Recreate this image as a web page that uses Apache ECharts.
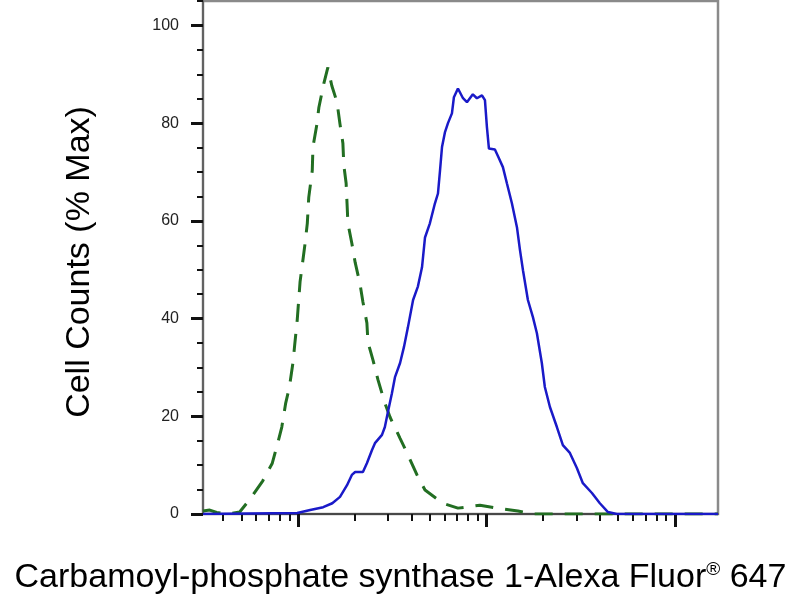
<!DOCTYPE html>
<html>
<head>
<meta charset="utf-8">
<script src="https://cdn.jsdelivr.net/npm/echarts@6/dist/echarts.min.js"></script>
<style>
html,body{margin:0;padding:0;background:#fff;}
#chart{width:800px;height:600px;}
</style>
</head>
<body>
<div id="chart"></div>
<script>
// Isotype control (green dashed)
const greenX = [31.3, 34, 37, 42, 49, 56, 65, 73, 78, 82, 86, 90, 94, 96, 99, 102.5, 109, 112, 114, 119, 120, 126, 129, 137, 144, 151, 161, 167, 173, 175, 180, 182, 184, 193, 201, 213, 221, 232, 235, 250, 266, 289, 308, 348, 379, 428, 472, 588, 706, 924, 1137, 1469, 1765, 2673, 4000, 7365, 16950];
const greenY = [0.6, 0.8, 0.3, 0, 0.4, 3.2, 6.8, 10.4, 14.5, 17.8, 22.7, 26.0, 31.0, 34.6, 39.7, 47.5, 55.4, 59.5, 64.8, 70.3, 75.1, 79.8, 83.2, 88.1, 91.4, 87.7, 84.3, 79.8, 75.9, 71.4, 67.7, 63.6, 59.5, 55.4, 51.5, 47.2, 43.4, 39.1, 35.2, 31.5, 27.4, 22.7, 19.8, 15.5, 12.5, 8.0, 4.9, 2.2, 1.2, 1.8, 1.2, 0.6, 0, 0, 0, 0, 0];
// Sample (blue solid)
const blueX = [31.3, 99, 116, 136, 152, 167, 182, 193, 201, 221, 232, 247, 256, 279, 289, 300, 315, 327, 348, 365, 383, 408, 433, 455, 472, 501, 533, 553, 567, 581, 602, 625, 656, 672, 706, 751, 788, 847, 890, 947, 982, 1006, 1031, 1109, 1165, 1223, 1284, 1365, 1452, 1507, 1563, 1660, 1765, 1853, 1968, 2042, 2173, 2366, 2545, 2773, 3020, 3250, 3631, 4000, 4416, 4923, 16950];
const blueY = [0, 0.2, 0.8, 1.4, 2.2, 3.5, 5.9, 8.0, 8.6, 8.6, 10.4, 13.1, 14.5, 16.2, 17.8, 20.9, 24.7, 28.0, 30.9, 34.2, 38.2, 43.8, 46.6, 50.5, 56.6, 59.5, 63.6, 65.6, 70.3, 75.1, 78.1, 80.0, 82.0, 85.3, 87.1, 85.1, 84.3, 85.9, 85.1, 85.7, 84.7, 79.2, 74.8, 74.6, 72.8, 71.0, 67.7, 63.6, 58.7, 54.0, 49.9, 43.8, 40.3, 37.0, 30.9, 26.0, 21.9, 17.8, 14.1, 12.5, 9.4, 6.3, 4.3, 2.2, 0.4, 0, 0];

const yMajorTicks = [0, 20, 40, 60, 80, 100];
const yMinorTicks = [5, 10, 15, 25, 30, 35, 45, 50, 55, 65, 70, 75, 85, 90, 95, 105];
const xMajorTicks = [100, 1000, 10000];
const xMinorTicks = [40, 50, 60, 70, 80, 90, 200, 300, 400, 500, 600, 700, 800, 900, 2000, 3000, 4000, 5000, 6000, 7000, 8000, 9000];

const X_MIN = 31.3, X_MAX = 16950, Y_MIN = 0, Y_MAX = 105;
const xTitle = 'Carbamoyl-phosphate synthase 1-Alexa Fluor';
const yTitle = 'Cell Counts (% Max)';

const pair = (xs, ys) => xs.map((x, i) => [x, ys[i]]);

const chart = echarts.init(document.getElementById('chart'));
chart.setOption({
  animation: false,
  backgroundColor: '#fff',
  grid: {left: 203, right: 82, top: 1, bottom: 86, containLabel: false, outerBoundsMode: 'none',
         show: true, borderColor: '#8a8a8a', borderWidth: 2.5, backgroundColor: 'transparent'},
  xAxis: [{
    type: 'log', logBase: 10, min: X_MIN, max: X_MAX, position: 'bottom',
    axisLine: {show: true, lineStyle: {color: '#333', width: 1.5}},
    axisTick: {show: true, customValues: xMajorTicks, length: 13, lineStyle: {color: '#111', width: 3}},
    axisLabel: {show: false},
    splitLine: {show: false}, minorTick: {show: false},
    name: '{a|' + xTitle + '}{s|®}{a| 647}',
    nameLocation: 'middle', nameGap: 46,
    nameTextStyle: {
      padding: [0, 120, 0, 0],
      rich: {
        a: {fontFamily: 'Liberation Sans, Arial, sans-serif', fontSize: 34, color: '#000', lineHeight: 36},
        s: {fontFamily: 'Liberation Sans, Arial, sans-serif', fontSize: 19, color: '#000', verticalAlign: 'top', lineHeight: 36, padding: [0, 0, 12, 0]}
      }
    }
  }, {
    type: 'log', logBase: 10, min: X_MIN, max: X_MAX, position: 'bottom', offset: 0,
    axisLine: {show: false},
    axisTick: {show: true, customValues: xMinorTicks, length: 7, lineStyle: {color: '#111', width: 2}},
    axisLabel: {show: false}, splitLine: {show: false}
  }],
  yAxis: [{
    type: 'value', min: Y_MIN, max: Y_MAX, position: 'left',
    axisLine: {show: true, lineStyle: {color: '#555', width: 1.5}},
    axisTick: {show: true, customValues: yMajorTicks, length: 12, lineStyle: {color: '#111', width: 3}},
    axisLabel: {show: true, customValues: yMajorTicks, margin: 24, fontSize: 16, color: '#222', fontFamily: 'Liberation Sans, Arial, sans-serif'},
    splitLine: {show: false},
    name: yTitle, nameLocation: 'middle', nameGap: 106,
    nameTextStyle: {fontFamily: 'Liberation Sans, Arial, sans-serif', fontSize: 34, color: '#000', padding: [0, 9, 0, 0]}
  }, {
    type: 'value', min: Y_MIN, max: Y_MAX, position: 'left', offset: 0,
    axisLine: {show: false},
    axisTick: {show: true, customValues: yMinorTicks, length: 6, lineStyle: {color: '#111', width: 2}},
    axisLabel: {show: false}, splitLine: {show: false}
  }],
  series: [{
    type: 'line', name: 'Isotype', xAxisIndex: 0, yAxisIndex: 0,
    data: pair(greenX, greenY), showSymbol: false, symbol: 'none',
    lineStyle: {color: '#226e22', width: 3, type: [18, 12]}, z: 3
  }, {
    type: 'line', name: 'Sample', xAxisIndex: 0, yAxisIndex: 0,
    data: pair(blueX, blueY), showSymbol: false, symbol: 'none',
    lineStyle: {color: '#1a1ac8', width: 2.5}, z: 4
  }]
});
</script>
</body>
</html>
